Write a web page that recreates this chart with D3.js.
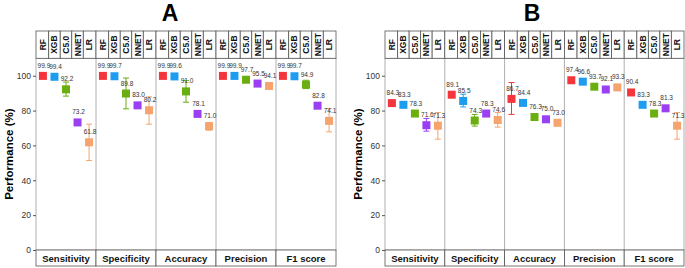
<!DOCTYPE html>
<html>
<head>
<meta charset="utf-8">
<script src="https://cdn.jsdelivr.net/npm/d3@7"></script>
<style>
  body { margin: 0; background: #fff; }
  svg { display: block; font-family: "Liberation Sans", Arial, sans-serif; }
</style>
</head>
<body>
<div id="chart"></div>
<script>
// data
const metrics = ["Sensitivity", "Specificity", "Accuracy", "Precision", "F1 score"];
const models = ["RF", "XGB", "C5.0", "NNET", "LR"];
const modelColors = ["#f5353d", "#1d9cf0", "#6aae0f", "#9b3ff2", "#f4a46c"];
const yTicks = [0, 20, 40, 60, 80, 100];

// A: rows = metrics, columns = models
const meanA = [
  [99.9, 99.4, 92.2, 73.2, 61.8],
  [99.9, 99.7, 89.8, 83.0, 80.2],
  [99.9, 99.6, 91.0, 78.1, 71.0],
  [99.9, 99.9, 97.7, 95.5, 94.1],
  [99.9, 99.7, 94.9, 82.8, 74.1]
];
const lowA = [
  [99.8, 99.0, 88.3, 72.0, 51.4],
  [99.8, 99.4, 81.0, 82.0, 72.2],
  [99.8, 99.3, 84.8, 77.5, 68.8],
  [99.8, 99.8, 97.0, 95.0, 93.5],
  [99.8, 99.4, 92.6, 82.3, 67.8]
];
const highA = [
  [100, 99.8, 96.4, 74.4, 72.2],
  [100, 100, 98.7, 84.0, 87.9],
  [100, 99.9, 97.2, 78.7, 73.2],
  [100, 100, 98.4, 96.0, 94.7],
  [100, 100, 97.4, 83.3, 81.2]
];

// B
const meanB = [
  [84.3, 83.3, 78.3, 71.6, 71.3],
  [89.1, 85.5, 74.3, 78.3, 74.6],
  [86.7, 84.4, 76.3, 75.0, 73.0],
  [97.4, 96.6, 93.7, 92.1, 93.3],
  [90.4, 83.3, 78.3, 81.3, 71.3]
];
const lowB = [
  [83.0, 82.0, 77.0, 68.2, 63.6],
  [88.0, 82.1, 71.1, 77.0, 70.5],
  [77.8, 83.4, 75.3, 74.0, 72.0],
  [96.6, 95.8, 92.9, 91.3, 92.5],
  [89.4, 82.3, 77.3, 80.3, 63.6]
];
const highB = [
  [85.6, 84.6, 79.6, 75.5, 78.9],
  [90.2, 89.4, 77.8, 79.6, 78.9],
  [96.1, 85.4, 77.3, 76.0, 74.0],
  [98.2, 97.4, 94.5, 92.9, 94.1],
  [91.4, 84.3, 79.3, 82.3, 78.9]
];

const W = 685, H = 268;
const svg = d3.select("#chart").append("svg")
  .attr("width", W)
  .attr("height", H);

function drawPanel(title, mean, low, high, left, right, titleX, axisTitleX) {
  const stripTop = 31, plotTop = 58.3, plotBottom = 250, stripBottom = 266;

  const x = d3.scaleBand().domain(metrics).range([left, right]).padding(0);
  const xm = d3.scalePoint().domain(models).range([0, x.bandwidth()]).padding(0.6);
  const y = d3.scaleLinear().domain([0, 110]).range([plotBottom, plotTop]);

  const g = svg.append("g");

  // title
  g.append("text")
    .attr("x", titleX)
    .attr("y", 21)
    .attr("text-anchor", "middle")
    .attr("font-size", 23)
    .attr("font-weight", "bold")
    .attr("fill", "#000")
    .text(title);

  // plot area frame + group dividers
  g.append("rect")
    .attr("x", left).attr("y", plotTop)
    .attr("width", right - left).attr("height", plotBottom - plotTop)
    .attr("fill", "#fff")
    .attr("stroke", "#b0b0b0")
    .attr("stroke-width", 1);

  g.selectAll(".divider")
    .data(metrics.slice(1))
    .join("line")
    .attr("class", "divider")
    .attr("x1", d => x(d)).attr("x2", d => x(d))
    .attr("y1", plotTop).attr("y2", plotBottom)
    .attr("stroke", "#b0b0b0")
    .attr("stroke-width", 1);

  // top strip with model names
  const cells = [];
  metrics.forEach(m => {
    models.forEach((mod, i) => {
      const cx = x(m) + xm(mod);
      const prev = i === 0 ? x(m) : (x(m) + (xm(models[i - 1]) + xm(mod)) / 2);
      const next = i === models.length - 1 ? x(m) + x.bandwidth() : (x(m) + (xm(mod) + xm(models[i + 1])) / 2);
      cells.push({ metric: m, model: mod, cx, x0: prev, x1: next });
    });
  });

  g.selectAll(".topcell")
    .data(cells)
    .join("rect")
    .attr("class", "topcell")
    .attr("x", d => d.x0).attr("y", stripTop)
    .attr("width", d => d.x1 - d.x0).attr("height", plotTop - stripTop)
    .attr("fill", "#fff")
    .attr("stroke", "#555")
    .attr("stroke-width", 0.8);

  g.selectAll(".toplabel")
    .data(cells)
    .join("text")
    .attr("class", "toplabel")
    .attr("transform", d => `translate(${d.cx + 3},${(stripTop + plotTop) / 2}) rotate(-90)`)
    .attr("text-anchor", "middle")
    .attr("font-size", 8.5)
    .attr("font-weight", "bold")
    .attr("fill", "#111")
    .text(d => d.model);

  // bottom strip with metric names
  g.selectAll(".botcell")
    .data(metrics)
    .join("rect")
    .attr("class", "botcell")
    .attr("x", d => x(d)).attr("y", plotBottom)
    .attr("width", x.bandwidth()).attr("height", stripBottom - plotBottom)
    .attr("fill", "#fff")
    .attr("stroke", "#555")
    .attr("stroke-width", 0.8);

  g.selectAll(".botlabel")
    .data(metrics)
    .join("text")
    .attr("class", "botlabel")
    .attr("x", d => x(d) + x.bandwidth() / 2)
    .attr("y", plotBottom + 11.5)
    .attr("text-anchor", "middle")
    .attr("font-size", 9.5)
    .attr("font-weight", "bold")
    .attr("fill", "#111")
    .text(d => d);

  // y axis
  const yAxis = g.append("g")
    .attr("transform", `translate(${left},0)`)
    .call(d3.axisLeft(y).tickValues(yTicks).tickSize(3).tickPadding(2));
  yAxis.select(".domain").remove();
  yAxis.selectAll(".tick line").attr("stroke", "#555");
  yAxis.selectAll(".tick text")
    .attr("font-size", 8.5)
    .attr("font-family", "Liberation Sans, Arial, sans-serif")
    .attr("fill", "#333");

  g.append("text")
    .attr("transform", `translate(${axisTitleX},${(plotTop + plotBottom) / 2}) rotate(-90)`)
    .attr("text-anchor", "middle")
    .attr("dominant-baseline", "central")
    .attr("font-size", 11.5)
    .attr("font-weight", "bold")
    .attr("fill", "#000")
    .text("Performance (%)");

  // points
  const pts = [];
  metrics.forEach((m, r) => {
    models.forEach((mod, c) => {
      pts.push({
        metric: m, model: mod, color: modelColors[c],
        mean: mean[r][c], low: low[r][c], high: high[r][c],
        px: x(m) + xm(mod)
      });
    });
  });

  const cap = 3;
  g.selectAll(".err")
    .data(pts)
    .join("line")
    .attr("class", "err")
    .attr("x1", d => d.px).attr("x2", d => d.px)
    .attr("y1", d => y(d.low)).attr("y2", d => y(d.high))
    .attr("stroke", d => d.color)
    .attr("stroke-width", 1);
  g.selectAll(".capHi")
    .data(pts)
    .join("line")
    .attr("class", "capHi")
    .attr("x1", d => d.px - cap).attr("x2", d => d.px + cap)
    .attr("y1", d => y(d.high)).attr("y2", d => y(d.high))
    .attr("stroke", d => d.color)
    .attr("stroke-width", 1);
  g.selectAll(".capLo")
    .data(pts)
    .join("line")
    .attr("class", "capLo")
    .attr("x1", d => d.px - cap).attr("x2", d => d.px + cap)
    .attr("y1", d => y(d.low)).attr("y2", d => y(d.low))
    .attr("stroke", d => d.color)
    .attr("stroke-width", 1);

  const s = 8;
  g.selectAll(".pt")
    .data(pts)
    .join("rect")
    .attr("class", "pt")
    .attr("x", d => d.px - s / 2).attr("y", d => y(d.mean) - s / 2)
    .attr("width", s).attr("height", s)
    .attr("fill", d => d.color);

  g.selectAll(".val")
    .data(pts)
    .join("text")
    .attr("class", "val")
    .attr("x", d => d.px + 1)
    .attr("y", d => y(d.mean) - 10.5)
    .attr("text-anchor", "middle")
    .attr("dominant-baseline", "central")
    .attr("font-size", 6.5)
    .attr("fill", "#333")
    .text(d => d.mean.toFixed(1));
}

drawPanel("A", meanA, lowA, highA, 36, 336, 170, 9);
drawPanel("B", meanB, lowB, highB, 385, 684, 532, 358);
</script>
</body>
</html>
